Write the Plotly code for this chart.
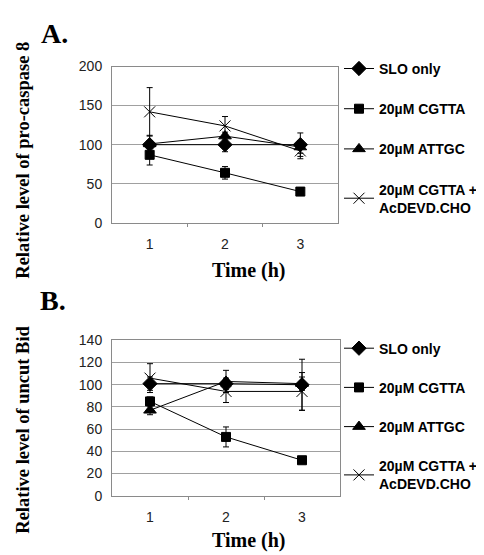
import plotly.graph_objects as go

time_h = [1, 2, 3]
x_ticks = ["1", "2", "3"]
series_names = ["SLO only", "20µM CGTTA", "20µM ATTGC", "20µM CGTTA +<br>AcDEVD.CHO"]

# Panel A: pro-caspase 8
a_slo = [100, 100, 100]
a_slo_err = [5, 9, 15]
a_cgtta = [87, 64, 40]
a_cgtta_err = [13, 8, 3]
a_attgc = [101, 111, 97]
a_attgc_err = [11, 5, 8]
a_devd = [142, 124, 92]
a_devd_err = [31, 12, 10]

# Panel B: uncut Bid
b_slo = [101, 101, 100]
b_slo_err = [6, 5, 23]
b_cgtta = [85, 53, 32]
b_cgtta_err = [4, 9, 2]
b_attgc = [77, 103, 101]
b_attgc_err = [4, 10, 6]
b_devd = [106, 94, 94]
b_devd_err = [13, 10, 17]

W, H = 484, 555
SERIF = "Liberation Serif"
SANS = "Liberation Sans"

symbols = [
    dict(symbol="diamond", size=11),
    dict(symbol="square", size=9),
    dict(symbol="triangle-up", size=11),
    dict(symbol="x-thin", size=11),
]

fig = go.Figure()

def add_panel(vals, errs, xa, ya, legend):
    for i, (v, e) in enumerate(zip(vals, errs)):
        s = symbols[i]
        fig.add_trace(go.Scatter(
            x=time_h, y=v, xaxis=xa, yaxis=ya, mode="lines+markers",
            name=series_names[i], legend=legend, legendgroup=legend + str(i),
            line=dict(color="black", width=1),
            marker=dict(symbol=s["symbol"], size=s["size"], color="black",
                        line=dict(color="black", width=1)),
            error_y=dict(type="data", array=e, visible=True, color="black",
                         thickness=1, width=3),
        ))

add_panel([a_slo, a_cgtta, a_attgc, a_devd],
          [a_slo_err, a_cgtta_err, a_attgc_err, a_devd_err], "x", "y", "legend")
add_panel([b_slo, b_cgtta, b_attgc, b_devd],
          [b_slo_err, b_cgtta_err, b_attgc_err, b_devd_err], "x2", "y2", "legend2")

def px_x(p):
    return p / W

def px_y(p):
    return 1 - p / H

xcommon = dict(range=[0.5, 3.5], tickvals=time_h, ticktext=x_ticks, ticks="",
               showline=True, mirror=True, linecolor="#8a8a8a", linewidth=1,
               showgrid=False, zeroline=False, ticklabelstandoff=8,
               tickfont=dict(family=SANS, size=14, color="#222"),
               minor=dict(tickvals=[1.5, 2.5], ticks="outside", ticklen=3,
                          tickcolor="#8a8a8a", showgrid=False))
ycommon = dict(showline=True, mirror=True, linecolor="#8a8a8a", linewidth=1,
               showgrid=True, gridcolor="#a0a0a0", gridwidth=1, zeroline=False,
               ticks="", ticklabelstandoff=6,
               tickfont=dict(family=SANS, size=14, color="#222"))

legfont = dict(family=SANS, size=14, color="black", weight="bold")

fig.update_layout(
    width=W, height=H, margin=dict(l=0, r=0, t=0, b=0),
    paper_bgcolor="white", plot_bgcolor="white",
    xaxis=dict(domain=[px_x(104), px_x(330)], anchor="y", **xcommon),
    yaxis=dict(domain=[px_y(213), px_y(52)], anchor="x", range=[0, 200], dtick=50, **ycommon),
    xaxis2=dict(domain=[px_x(104), px_x(332)], anchor="y2", **xcommon),
    yaxis2=dict(domain=[px_y(494), px_y(334)], anchor="x2", range=[0, 140], dtick=20, **ycommon),
    legend=dict(x=px_x(331), y=px_y(38), xanchor="left", yanchor="top",
                font=legfont, tracegroupgap=19, bgcolor="rgba(0,0,0,0)", itemwidth=30),
    legend2=dict(x=px_x(331), y=px_y(326), xanchor="left", yanchor="top",
                 font=legfont, tracegroupgap=18, bgcolor="rgba(0,0,0,0)", itemwidth=30),
    showlegend=True,
)

def ann(text, x, y, size, angle=0, yanchor="middle"):
    fig.add_annotation(text=text, x=px_x(x), y=px_y(y), xref="paper", yref="paper",
                       showarrow=False, textangle=angle, xanchor="center", yanchor=yanchor,
                       font=dict(family=SERIF, size=size, color="black", weight="bold"))

ann("A.", 46, 0, 28, yanchor="top")
ann("B.", 45, 293, 28)
ann("Relative level of pro-caspase 8", 15, 149, 18.5, -90)
ann("Relative level of uncut Bid", 15, 426, 18.5, -90)
ann("Time (h)", 241, 262, 20)
ann("Time (h)", 241, 540, 20)

fig.write_html("out.html")
